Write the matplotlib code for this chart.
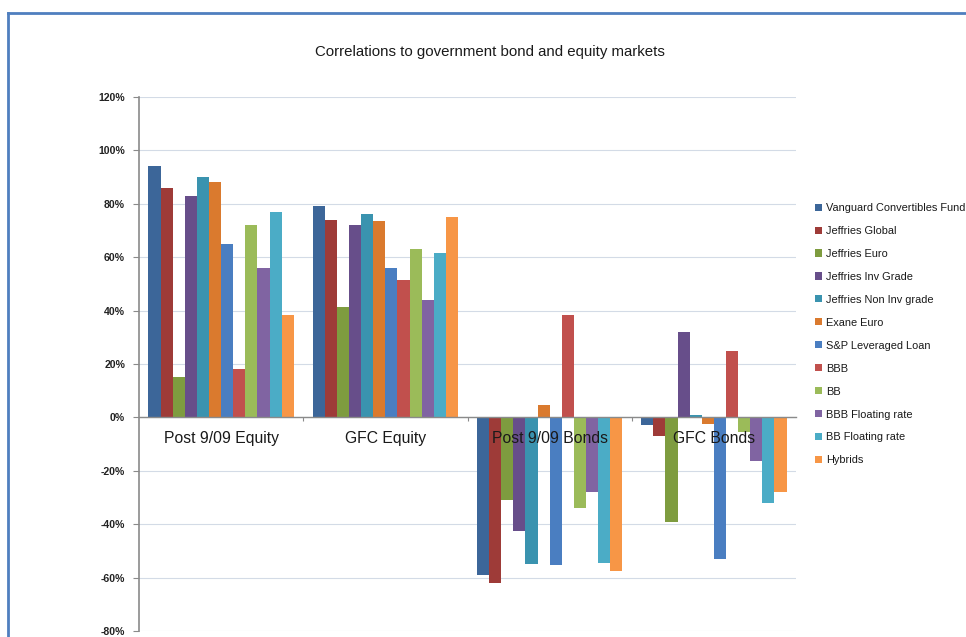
import matplotlib
matplotlib.use("Agg")
import matplotlib.pyplot as plt
from matplotlib.lines import Line2D
from matplotlib.ticker import FuncFormatter
import numpy as np

plt.rcParams['font.family'] = ['Liberation Sans', 'DejaVu Sans']

categories = ["Post 9/09 Equity", "GFC Equity", "Post 9/09 Bonds", "GFC Bonds"]
series_names = ["Vanguard Convertibles Fund", "Jeffries Global", "Jeffries Euro",
                "Jeffries Inv Grade", "Jeffries Non Inv grade", "Exane Euro",
                "S&P Leveraged Loan", "BBB", "BB", "BBB Floating rate",
                "BB Floating rate", "Hybrids"]

vanguard = [0.94, 0.79, -0.59, -0.03]
jeff_global = [0.86, 0.74, -0.62, -0.07]
jeff_euro = [0.15, 0.415, -0.31, -0.39]
jeff_inv = [0.83, 0.72, -0.425, 0.32]
jeff_noninv = [0.90, 0.76, -0.55, 0.01]
exane = [0.88, 0.735, 0.045, -0.025]
snp_loan = [0.65, 0.56, -0.553, -0.53]
bbb = [0.18, 0.515, 0.385, 0.25]
bb = [0.72, 0.63, -0.34, -0.055]
bbb_float = [0.56, 0.44, -0.28, -0.165]
bb_float = [0.77, 0.615, -0.546, -0.32]
hybrids = [0.385, 0.75, -0.576, -0.28]

series_values = [vanguard, jeff_global, jeff_euro, jeff_inv, jeff_noninv, exane,
                 snp_loan, bbb, bb, bbb_float, bb_float, hybrids]

y_ticks = [-0.8, -0.6, -0.4, -0.2, 0.0, 0.2, 0.4, 0.6, 0.8, 1.0, 1.2]

colors = ['#3C6699', '#9E3B38', '#7E9C3F', '#674E8A', '#3A93AF', '#DA7A2E',
          '#4A7EC1', '#C1504D', '#9BBB59', '#8064A2', '#4BACC6', '#F79646']

W, H = 966, 637
fig = plt.figure(figsize=(W / 100, H / 100), dpi=100)
fig.patch.set_facecolor('white')

left, right, top, bottom = 139, 796, 97, 631
ax = fig.add_axes([left / W, 1 - bottom / H, (right - left) / W, (bottom - top) / H])

n = len(series_values)
bw = 0.0737
x = np.arange(len(categories))
for i, (name, vals) in enumerate(zip(series_names, series_values)):
    offs = (i - (n - 1) / 2) * bw
    ax.bar(x + offs, vals, width=bw, color=colors[i], label=name, zorder=3,
           linewidth=0)

ax.set_xlim(-0.5, len(categories) - 0.5)
ax.set_ylim(-0.8, 1.2)
ax.set_yticks(y_ticks)
ax.yaxis.set_major_formatter(FuncFormatter(lambda v, p: f"{v*100:.0f}%"))
ax.tick_params(axis='y', direction='out', length=4, color='#8a8a8a', pad=6,
               labelsize=7.6, labelcolor='#222222')
for lab in ax.get_yticklabels():
    lab.set_fontweight('bold')

ax.grid(axis='y', color='#d3dbe6', linewidth=0.8, zorder=0)
ax.set_axisbelow(True)

for s in ['top', 'right']:
    ax.spines[s].set_visible(False)
ax.spines['left'].set_color('#8a8a8a')
ax.spines['left'].set_linewidth(1.2)
ax.spines['bottom'].set_position(('data', 0))
ax.spines['bottom'].set_color('#8a8a8a')
ax.spines['bottom'].set_linewidth(1.0)
ax.spines['bottom'].set_zorder(4)

ax.set_xticks(np.arange(0.5, len(categories) - 0.5, 1.0))
ax.set_xticklabels([])
ax.tick_params(axis='x', direction='out', length=3, color='#8a8a8a')

for xi, cat in zip(x, categories):
    ax.annotate(cat, (xi, 0), xytext=(0, -10), textcoords='offset points',
                ha='center', va='top', fontsize=11.3, color='#1a1a1a', zorder=5)

fig.text(490 / W, 1 - 52 / H, "Correlations to government bond and equity markets",
         ha='center', va='center', fontsize=10.8, color='#1a1a1a')

leg = fig.legend(loc='upper left', bbox_to_anchor=(815 / W, 1 - 203 / H),
                 frameon=False, fontsize=7.9, handlelength=0.62, handleheight=0.62,
                 handletextpad=0.35, labelspacing=1.18, borderaxespad=0,
                 borderpad=0)
for t in leg.get_texts():
    t.set_color('#1a1a1a')

# outer frame
fig.add_artist(Line2D([8 / W, 1.0], [1 - 13 / H, 1 - 13 / H], color='#4F7FBF',
                      linewidth=2, transform=fig.transFigure))
fig.add_artist(Line2D([8 / W, 8 / W], [0, 1 - 13 / H], color='#4F7FBF',
                      linewidth=2, transform=fig.transFigure))

fig.savefig("out.png", dpi=100)
